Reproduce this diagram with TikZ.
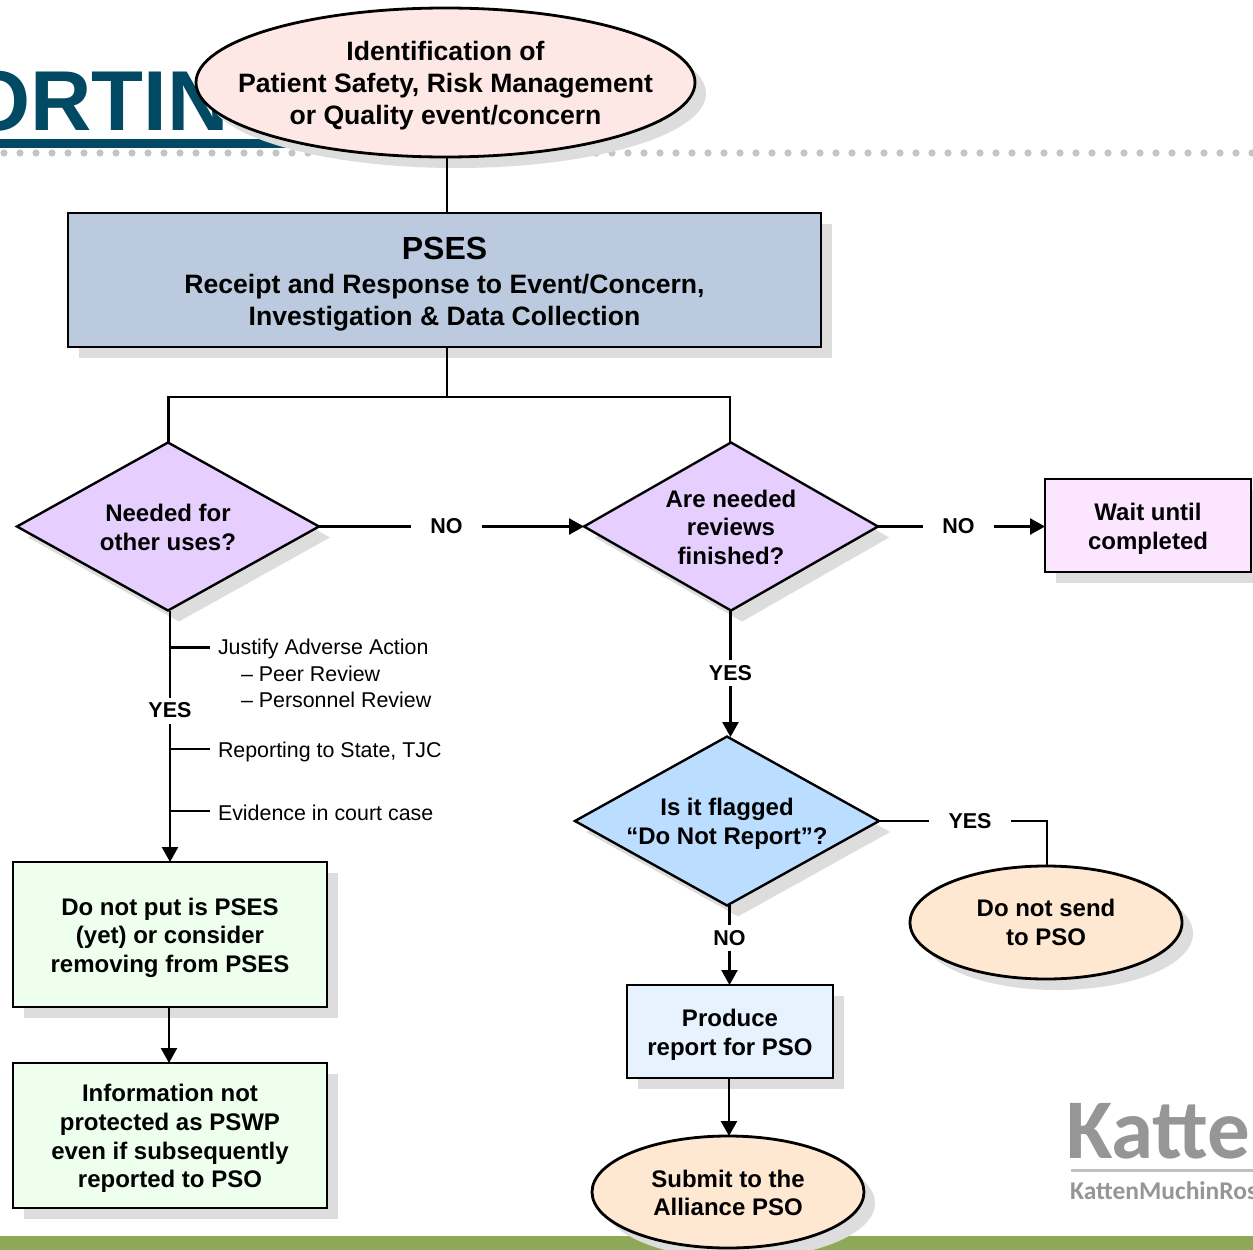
\documentclass[tikz,border=0pt]{standalone}
\usepackage{fontspec}
\setmainfont{Liberation Sans}
\newfontfamily\logofont{Carlito}
\usetikzlibrary{shapes.geometric,shadows,arrows.meta}
\definecolor{teal}{HTML}{024A63}
\definecolor{dotgray}{HTML}{C4C4C4}
\definecolor{shadowgray}{HTML}{DDDDDD}
\definecolor{barolive}{HTML}{8FA858}
\definecolor{logogray}{HTML}{969696}
\newcommand{\dnr}[1]{\rule{0pt}{#1pt}}
\tikzset{
  x=1pt,y=-1pt,
  shad/.style={drop shadow={shadow xshift=11pt,shadow yshift=-11pt,fill=shadowgray,opacity=1}},
  shapebase/.style={draw=black,line width=2.8pt,shad,align=center,inner sep=0pt,outer sep=0pt,font=\bfseries\fontsize{24}{28.6}\selectfont},
  boxnode/.style={shapebase,rectangle,minimum width=#1},
  ovalnode/.style={shapebase,ellipse},
  dia/.style={shapebase,diamond,line width=2.4pt},
  lab/.style={font=\bfseries\fontsize{21.5}{26}\selectfont,inner sep=0pt,outer sep=0pt,fill=white},
  note/.style={font=\fontsize{21.4}{26}\selectfont,inner sep=0pt,outer sep=0pt,anchor=west,align=left},
  conn/.style={line width=2.4pt,black},
  arr/.style={conn,-{Triangle[length=15pt,width=16pt]}},
}
\begin{document}
\begin{tikzpicture}
\useasboundingbox (0,0) rectangle (1253,1250);
\clip (0,0) rectangle (1253,1250);
% background furniture
\fill[white] (0,0) rectangle (1253,1250);
\node[font=\bfseries\fontsize{85}{85}\selectfont,text=teal,anchor=base west,inner sep=0pt] (title) at (-36,130) {ORTIN};
\fill[teal] (0,139) rectangle (295,148);
\foreach \k in {0,...,78} \fill[dotgray] (4+16*\k,153) circle (3.6);
\fill[barolive] (0,1236) rectangle (1253,1250);
\node[font=\logofont\bfseries\fontsize{85}{85}\selectfont,text=logogray,anchor=base west,inner sep=0pt] (logoa) at (1066,1158) {Katte};
\fill[logogray!60] (1071,1169) rectangle (1253,1172);
\node[font=\logofont\bfseries\fontsize{25.5}{26}\selectfont,text=logogray,anchor=base west,inner sep=0pt] (logob) at (1070,1199) {KattenMuchinRos};
% nodes
\node[ovalnode,inner xsep=-45pt,minimum width=499pt,minimum height=149pt,fill={rgb,255:red,253;green,232;blue,230},font=\bfseries\fontsize{26.6}{32}\selectfont] (start) at (445.5,82.5) {\dnr{25.5}Identification of\\Patient Safety, Risk Management\\or Quality event/concern};
\node[boxnode=753pt,minimum height=134pt,fill={rgb,255:red,188;green,202;blue,223},font=\bfseries\fontsize{26.6}{32}\selectfont] (pses) at (444.5,280) {\dnr{30}{\fontsize{32}{36}\selectfont PSES}\\[2pt]Receipt and Response to Event/Concern,\\Investigation \& Data Collection};
\node[dia,minimum width=302pt,minimum height=168pt,aspect=1.8,fill={rgb,255:red,230;green,207;blue,255}] (d1) at (168,526.5) {\dnr{19}Needed for\\other uses?};
\node[dia,minimum width=294pt,minimum height=168pt,aspect=1.75,fill={rgb,255:red,230;green,207;blue,255}] (d2) at (731,526.5) {\dnr{19}Are needed\\reviews\\finished?};
\node[dia,minimum width=302pt,minimum height=168pt,aspect=1.8,fill={rgb,255:red,187;green,221;blue,255}] (d3) at (727,821) {\dnr{23.5}Is it flagged\\“Do Not Report”?};
\node[boxnode=206pt,minimum height=93pt,fill={rgb,255:red,252;green,229;blue,255}] (wait) at (1148,525.5) {\dnr{23.5}Wait until\\completed};
\node[boxnode=314pt,minimum height=145pt,fill={rgb,255:red,238;green,255;blue,238}] (g1) at (170,934.5) {\dnr{23.5}Do not put is PSES\\(yet) or consider\\removing from PSES};
\node[boxnode=314pt,minimum height=145pt,fill={rgb,255:red,238;green,255;blue,238}] (g2) at (170,1135.5) {\dnr{23.5}Information not\\protected as PSWP\\even if subsequently\\reported to PSO};
\node[boxnode=206pt,minimum height=93pt,fill={rgb,255:red,230;green,243;blue,255}] (prod) at (730,1031.5) {\dnr{23.5}Produce\\report for PSO};
\node[ovalnode,minimum width=272pt,minimum height=113pt,fill={rgb,255:red,255;green,232;blue,210}] (dns) at (1046,922.5) {Do not send\\to PSO};
\node[ovalnode,minimum width=272pt,minimum height=112pt,fill={rgb,255:red,255;green,232;blue,210}] (sub) at (728,1192) {\dnr{19.5}Submit to the\\Alliance PSO};
% labels
\node[lab,minimum width=71pt] (no1) at (446.5,526.5) {NO};
\node[lab,minimum width=71pt] (no2) at (958.5,526.5) {NO};
\node[lab,minimum height=26pt] (yes1) at (170,710.5) {YES};
\node[lab,minimum height=26pt] (yes2) at (730.5,673) {YES};
\node[lab,minimum width=82pt] (yes3) at (970,821) {YES};
\node[lab,minimum height=26pt] (no3) at (729.5,938) {NO};
\node[note] (n1) at (218,649) {Justify Adverse Action};
\node[note] (n1a) at (241,674) {– Peer Review};
\node[note] (n1b) at (241,700) {– Personnel Review};
\node[note] (n2) at (218,752) {Reporting to State, TJC};
\node[note] (n3) at (218,813) {Evidence in court case};
% helper coordinates
\coordinate (a) at (447,157.5);
\coordinate (b) at (447,213);
\coordinate (c) at (447,347);
\coordinate (j) at (447,397);
\coordinate (jl) at (168.5,397);
\coordinate (jr) at (730,397);
\coordinate (dl) at (168.5,443);
\coordinate (dr) at (730,443);
\coordinate (s1) at (170,647.5);
\coordinate (e1) at (210,647.5);
\coordinate (s2) at (170,749);
\coordinate (e2) at (210,749);
\coordinate (s3) at (170,811);
\coordinate (e3) at (210,811);
\coordinate (corner) at (1047,821);
\coordinate (g1b) at (169,1007);
\coordinate (g2t) at (169,1063);
\coordinate (d2b) at (730.5,611);
\coordinate (d3t) at (730.5,737);
\coordinate (d3b) at (729.5,905);
\coordinate (prt) at (729.5,985);
\coordinate (prb) at (729,1078);
\coordinate (subt) at (729,1136);
\coordinate (dnst) at (1047,866);
\coordinate (d1b) at (170,611);
\coordinate (waitw) at (1045,526.5);
% connectors
\draw[conn] (a) -- (b);
\draw[conn] (c) -- (j);
\draw[conn] (dl) -- (jl) -- (jr) -- (dr);
\draw[conn] (d1.east) -- (no1.west);
\draw[arr] (no1.east) -- (d2.west);
\draw[conn] (d2.east) -- (no2.west);
\draw[arr] (no2.east) -- (waitw);
\draw[conn] (d1b) -- (yes1.north);
\draw[arr] (yes1.south) -- (g1.north);
\draw[conn] (s1) -- (e1);
\draw[conn] (s2) -- (e2);
\draw[conn] (s3) -- (e3);
\draw[arr] (g1b) -- (g2t);
\draw[conn] (d2b) -- (yes2.north);
\draw[arr] (yes2.south) -- (d3t);
\draw[conn] (d3.east) -- (yes3.west);
\draw[conn] (yes3.east) -- (corner) -- (dnst);
\draw[conn] (d3b) -- (no3.north);
\draw[arr] (no3.south) -- (prt);
\draw[arr] (prb) -- (subt);
\end{tikzpicture}
\end{document}
